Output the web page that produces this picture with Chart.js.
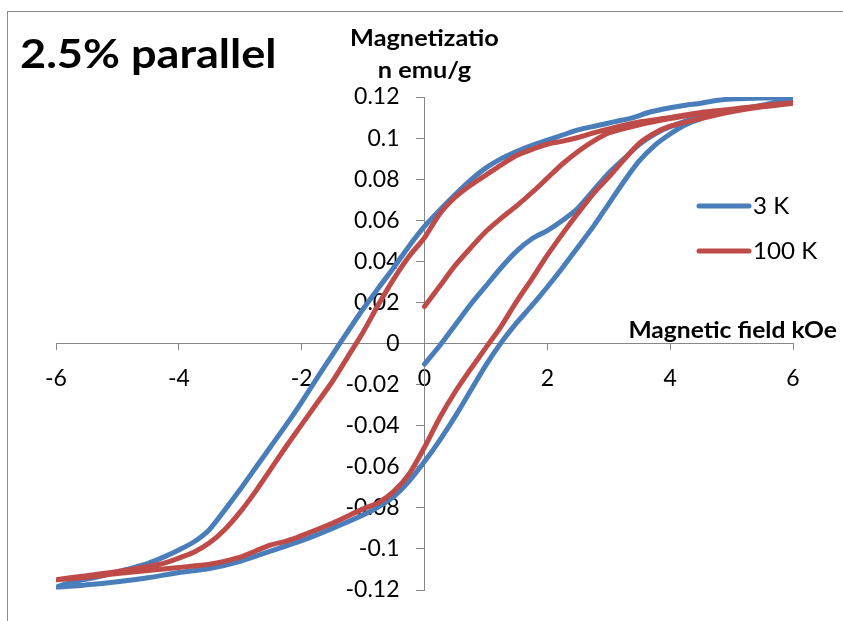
<!DOCTYPE html>
<html>
<head>
<meta charset="utf-8">
<script src="https://cdn.jsdelivr.net/npm/chart.js@4.4.1/dist/chart.umd.min.js"></script>
<style>
  html, body { margin: 0; padding: 0; background: #ffffff; }
  #wrap { position: relative; width: 843px; height: 621px; }
  canvas { display: block; }
</style>
</head>
<body>
<div id="wrap"><canvas id="c" width="843" height="621"></canvas></div>
<script>
// ---------------- data ----------------
const seriesNames = ['3 K', '100 K'];

// 3 K loop: virgin 0 -> 6, descending 6 -> -6, ascending -6 -> 6
const field3K = [
  0, 0.25, 0.5, 0.75, 1.0, 1.25, 1.5, 1.75, 2.0, 2.25, 2.5, 2.75, 3.0, 3.25, 3.5, 3.75, 4.0, 4.5, 5.0, 5.5, 6.0,
  5.5, 5.0, 4.75, 4.5, 4.25, 4.0, 3.67, 3.4, 3.1, 2.8, 2.5, 2.25, 2.0, 1.75, 1.5, 1.25, 1.0, 0.75, 0.5, 0.25, 0,
  -0.25, -0.5, -0.75, -1.0, -1.25, -1.5, -1.75, -2.0, -2.25, -2.5, -2.75, -3.0, -3.25, -3.5, -3.75, -4.0, -4.25,
  -4.5, -4.85, -5.3, -5.7, -6.0,
  -5.5, -5.0, -4.5, -4.0, -3.5, -3.0, -2.5, -2.0, -1.5, -1.0, -0.75, -0.5, -0.25, 0, 0.25, 0.5, 0.75, 1.0, 1.25,
  1.5, 1.75, 2.0, 2.25, 2.5, 2.75, 3.0, 3.25, 3.5, 3.75, 4.0, 4.25, 4.5, 4.75, 5.0, 5.5, 6.0
];
const mag3K = [
  -0.010, -0.001, 0.009, 0.019, 0.028, 0.037, 0.045, 0.051, 0.055, 0.060, 0.066, 0.0745, 0.083, 0.090, 0.097, 0.102, 0.1055, 0.1105, 0.1135, 0.116, 0.1195,
  0.1195, 0.119, 0.1183, 0.117, 0.116, 0.1148, 0.1127, 0.110, 0.108, 0.106, 0.104, 0.1015, 0.099, 0.0965, 0.0935, 0.090, 0.0855, 0.0795, 0.0725, 0.065, 0.057,
  0.0475, 0.037, 0.027, 0.0168, 0.0058, -0.0055, -0.0168, -0.0285, -0.0395, -0.050, -0.0605, -0.071, -0.081, -0.0905, -0.0965, -0.1005, -0.104,
  -0.107, -0.110, -0.1135, -0.116, -0.1185,
  -0.1175, -0.116, -0.114, -0.1115, -0.1095, -0.106, -0.101, -0.096, -0.090, -0.0835, -0.0795, -0.0745, -0.067, -0.0575, -0.047, -0.0355, -0.023, -0.0105, 0.0005,
  0.010, 0.0185, 0.0275, 0.037, 0.047, 0.057, 0.068, 0.079, 0.089, 0.0965, 0.102, 0.1065, 0.1095, 0.112, 0.1135, 0.1155, 0.1175
];

// 100 K loop
const field100K = [
  0, 0.25, 0.5, 0.75, 1.0, 1.25, 1.5, 1.75, 2.0, 2.25, 2.5, 2.75, 3.0, 3.5, 4.0, 4.5, 5.0, 5.5, 6.0,
  5.5, 5.0, 4.5, 4.0, 3.5, 3.0, 2.75, 2.5, 2.25, 2.0, 1.75, 1.5, 1.25, 1.0, 0.75, 0.5, 0.25, 0,
  -0.25, -0.5, -0.75, -1.0, -1.25, -1.5, -1.75, -2.0, -2.25, -2.5, -2.75, -3.0, -3.25, -3.5, -3.75, -4.0, -4.25,
  -4.5, -5.0, -5.5, -6.0,
  -5.5, -5.0, -4.5, -4.0, -3.5, -3.0, -2.75, -2.5, -2.25, -2.0, -1.5, -1.0, -0.75, -0.5, -0.25, 0, 0.25, 0.5, 0.75,
  1.0, 1.25, 1.5, 1.75, 2.0, 2.25, 2.5, 2.75, 3.0, 3.25, 3.5, 3.75, 4.0, 4.5, 5.0, 5.5, 6.0
];
const mag100K = [
  0.018, 0.028, 0.038, 0.0465, 0.0545, 0.061, 0.067, 0.0735, 0.0805, 0.0875, 0.0935, 0.0985, 0.1025, 0.1065, 0.1095, 0.112, 0.114, 0.1158, 0.1172,
  0.1158, 0.114, 0.1125, 0.110, 0.1078, 0.1045, 0.1025, 0.1003, 0.0985, 0.097, 0.0945, 0.0915, 0.087, 0.082, 0.077, 0.0712, 0.0632, 0.0515,
  0.0425, 0.0315, 0.019, 0.0055, -0.0065, -0.0185, -0.029, -0.0395, -0.050, -0.061, -0.072, -0.082, -0.0905, -0.097, -0.1015, -0.1045, -0.107,
  -0.1085, -0.111, -0.113, -0.115,
  -0.1138, -0.112, -0.1105, -0.109, -0.1075, -0.104, -0.101, -0.098, -0.0962, -0.0935, -0.0875, -0.0805, -0.0775, -0.072, -0.0635, -0.0505, -0.036, -0.0235, -0.0125,
  -0.002, 0.0085, 0.0205, 0.0315, 0.043, 0.0535, 0.0635, 0.073, 0.081, 0.0895, 0.0975, 0.1025, 0.1058, 0.1095, 0.1128, 0.1152, 0.117
];

const xTickValues = [-6, -4, -2, 0, 2, 4, 6];
const yTickValues = [-0.12, -0.1, -0.08, -0.06, -0.04, -0.02, 0, 0.02, 0.04, 0.06, 0.08, 0.1, 0.12];

const chartTitle = '2.5% parallel';
const yTitleLines = ['Magnetizatio', 'n emu/g'];
const xTitle = 'Magnetic field kOe';

// ---------------- styles ----------------
const BLUE = '#4A7EBB';
const RED = '#BE4B48';
const AXIS = '#868686';
const FONT = 'Lato';

function toPoints(xs, ys) {
  return xs.map((x, i) => ({ x: x, y: ys[i] }));
}

// draw text stretched horizontally by a factor (mimics the wider Calibri face)
function drawStretched(c, text, x, y, stretch, align) {
  const w = c.measureText(text).width * stretch;
  let left = x;
  if (align === 'center') left = x - w / 2;
  else if (align === 'right') left = x - w;
  c.save();
  c.translate(left, y);
  c.scale(stretch, 1);
  c.textAlign = 'left';
  c.fillText(text, 0, 0);
  c.restore();
}

// centred axes: move the y tick labels off the axis line (left of the tick marks)
function shiftYLabels(scale) {
  if (scale.$shiftPatched || typeof scale._computeLabelItems !== 'function') return;
  const orig = scale._computeLabelItems;
  scale._computeLabelItems = function (chartArea) {
    const items = orig.call(this, chartArea);
    const shift = this.options.grid.tickLength + this.options.ticks.padding;
    items.forEach(it => {
      if (it && it.options && it.options.translation) it.options.translation[0] -= shift;
    });
    return items;
  };
  scale.$shiftPatched = true;
}

const decor = {
  id: 'decor',
  beforeDraw(chart) {
    const c = chart.ctx;
    c.save();
    c.fillStyle = '#ffffff';
    c.fillRect(0, 0, chart.width, chart.height);
    c.strokeStyle = '#8c8c8c';
    c.lineWidth = 1;
    c.strokeRect(7.5, 11.5, chart.width + 20, chart.height + 20);
    c.restore();
  },
  afterDraw(chart) {
    const c = chart.ctx;
    const ax = chart.scales.x.getPixelForValue(0);
    const ay = chart.scales.y.getPixelForValue(0);
    c.save();
    c.fillStyle = '#000000';
    c.textBaseline = 'alphabetic';
    // main title
    c.font = 'bold 41px ' + FONT;
    drawStretched(c, chartTitle, 20, 68, 1.1, 'left');
    // y axis title (two lines, centred over the axis)
    c.font = 'bold 23px ' + FONT;
    drawStretched(c, yTitleLines[0], ax, 46, 1.1, 'center');
    drawStretched(c, yTitleLines[1], ax, 78, 1.1, 'center');
    // x axis title
    drawStretched(c, xTitle, 837, ay - 6, 1.07, 'right');
    // legend
    const items = [
      { label: seriesNames[0], color: BLUE, y: 206 },
      { label: seriesNames[1], color: RED, y: 251 }
    ];
    c.font = '23px ' + FONT;
    c.textBaseline = 'middle';
    items.forEach(it => {
      c.strokeStyle = it.color;
      c.lineWidth = 5;
      c.lineCap = 'round';
      c.beginPath();
      c.moveTo(699, it.y);
      c.lineTo(749, it.y);
      c.stroke();
      drawStretched(c, it.label, 753, it.y + 1, 1.05, 'left');
    });
    c.restore();
  }
};

function draw() {
  const ctx = document.getElementById('c').getContext('2d');
  new Chart(ctx, {
    type: 'scatter',
    data: {
      datasets: [
        {
          label: seriesNames[0],
          data: toPoints(field3K, mag3K),
          showLine: true,
          borderColor: BLUE,
          backgroundColor: BLUE,
          borderWidth: 5,
          pointRadius: 0,
          pointHoverRadius: 0,
          tension: 0.25,
          fill: false,
          borderCapStyle: 'round',
          borderJoinStyle: 'round',
          order: 2
        },
        {
          label: seriesNames[1],
          data: toPoints(field100K, mag100K),
          showLine: true,
          borderColor: RED,
          backgroundColor: RED,
          borderWidth: 5,
          pointRadius: 0,
          pointHoverRadius: 0,
          tension: 0.25,
          fill: false,
          borderCapStyle: 'round',
          borderJoinStyle: 'round',
          order: 1
        }
      ]
    },
    options: {
      responsive: false,
      animation: false,
      devicePixelRatio: 1,
      layout: { padding: { left: 56, right: 50, top: 97, bottom: 31 } },
      plugins: {
        legend: { display: false },
        tooltip: { enabled: false },
        title: { display: false }
      },
      scales: {
        x: {
          type: 'linear',
          position: { y: 0 },
          min: -6,
          max: 6,
          afterBuildTicks: s => { s.ticks = xTickValues.map(v => ({ value: v })); },
          grid: { drawOnChartArea: false, drawTicks: true, tickLength: 6, color: AXIS, lineWidth: 1 },
          border: { display: true, color: AXIS, width: 1 },
          ticks: {
            font: { family: FONT, size: 23 },
            color: '#000000',
            padding: 15,
            maxRotation: 0,
            autoSkip: false,
            callback: v => String(v)
          }
        },
        y: {
          type: 'linear',
          position: { x: 0 },
          min: -0.12,
          max: 0.12,
          afterBuildTicks: s => { s.ticks = yTickValues.map(v => ({ value: v })); },
          afterUpdate: s => shiftYLabels(s),
          grid: { drawOnChartArea: false, drawTicks: true, tickLength: 8, color: AXIS, lineWidth: 1 },
          border: { display: true, color: AXIS, width: 1 },
          ticks: {
            font: { family: FONT, size: 23 },
            color: '#000000',
            padding: 17,
            autoSkip: false,
            callback: v => String(v)
          }
        }
      }
    },
    plugins: [decor]
  });
}

if (document.fonts && document.fonts.load) {
  Promise.all([
    document.fonts.load('23px Lato'),
    document.fonts.load('bold 23px Lato'),
    document.fonts.load('bold 41px Lato')
  ]).then(draw, draw);
} else {
  draw();
}
</script>
</body>
</html>
